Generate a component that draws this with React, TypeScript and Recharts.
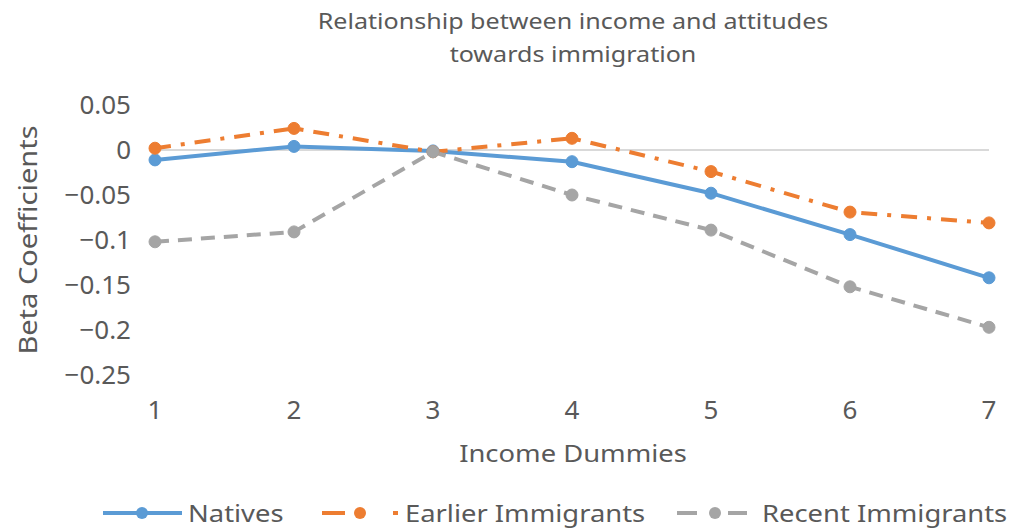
import { LineChart, Line, XAxis, YAxis, ReferenceLine } from 'recharts';

const categories = ['1', '2', '3', '4', '5', '6', '7'];
const natives = [-0.011, 0.004, -0.001, -0.013, -0.048, -0.094, -0.142];
const earlierImmigrants = [0.002, 0.024, -0.002, 0.013, -0.024, -0.069, -0.081];
const recentImmigrants = [-0.102, -0.091, -0.002, -0.05, -0.089, -0.152, -0.197];
const yTicks = [0.05, 0, -0.05, -0.1, -0.15, -0.2, -0.25];

const BLUE = '#5B9BD5';
const ORANGE = '#ED7D31';
const GREY = '#A5A5A5';
const TEXT = '#595959';
const FONT = '"Noto Sans", sans-serif';

const data = categories.map((c, i) => ({
  income: c,
  natives: natives[i],
  earlier: earlierImmigrants[i],
  recent: recentImmigrants[i],
}));

const formatTick = (v: number) => (v === 0 ? '0' : String(v).replace('-', '\u2212'));

// stretched text, the reference font runs wider than Noto Sans
const Wide = ({ left, top, size, children }: { left: number; top: number; size: number; children: string }) => (
  <div
    style={{
      position: 'absolute',
      left,
      top,
      fontSize: size,
      whiteSpace: 'nowrap',
      transform: 'scaleX(1.14)',
      transformOrigin: 'left center',
    }}
  >
    {children}
  </div>
);

const Centered = ({ cx, top, size, children }: { cx: number; top: number; size: number; children: string }) => (
  <div
    style={{
      position: 'absolute',
      left: cx,
      top,
      fontSize: size,
      whiteSpace: 'nowrap',
      transform: 'translateX(-50%) scaleX(1.14)',
    }}
  >
    {children}
  </div>
);

const App = () => {
  return (
    <div style={{ position: 'absolute', left: 0, top: 0, width: 1010, height: 528, background: '#fff', fontFamily: FONT, color: TEXT }}>
      <Centered cx={573} top={5} size={22}>Relationship between income and attitudes</Centered>
      <Centered cx={573} top={38} size={22}>towards immigration</Centered>
      <LineChart width={1010} height={528} data={data} margin={{ top: 105, right: 21, left: 0, bottom: 0 }}>
        <XAxis
          dataKey="income"
          axisLine={false}
          tickLine={false}
          tickSize={0}
          tickMargin={26}
          height={153}
          padding={{ left: 0, right: 0 }}
          tick={{ fill: TEXT, fontSize: 26, fontFamily: FONT }}
        />
        <YAxis
          domain={[-0.25, 0.05]}
          ticks={yTicks}
          axisLine={false}
          tickLine={false}
          tickSize={0}
          tickMargin={24}
          width={155}
          interval={0}
          tickFormatter={formatTick}
          tick={{ fill: TEXT, fontSize: 26, fontFamily: FONT }}
        />
        <ReferenceLine y={0} stroke="#D9D9D9" strokeWidth={2} />
        <Line
          dataKey="natives"
          stroke={BLUE}
          strokeWidth={4}
          dot={{ r: 6, fill: BLUE, stroke: BLUE, strokeWidth: 1 }}
          isAnimationActive={false}
        />
        <Line
          dataKey="earlier"
          stroke={ORANGE}
          strokeWidth={4}
          strokeDasharray="16 10 4 10"
          dot={{ r: 6, fill: ORANGE, stroke: ORANGE, strokeWidth: 1, strokeDasharray: '' }}
          isAnimationActive={false}
        />
        <Line
          dataKey="recent"
          stroke={GREY}
          strokeWidth={4}
          strokeDasharray="14 9"
          dot={{ r: 6, fill: GREY, stroke: GREY, strokeWidth: 1, strokeDasharray: '' }}
          isAnimationActive={false}
        />
      </LineChart>
      <Centered cx={573} top={436} size={24}>Income Dummies</Centered>
      <div
        style={{
          position: 'absolute',
          left: 27,
          top: 240,
          transform: 'translate(-50%, -50%) rotate(-90deg) scaleX(1.16)',
          whiteSpace: 'nowrap',
          fontSize: 25,
        }}
      >
        Beta Coefficients
      </div>
      <svg style={{ position: 'absolute', left: 0, top: 503 }} width={1010} height={20}>
        <line x1={103} y1={10} x2={182} y2={10} stroke={BLUE} strokeWidth={4} />
        <circle cx={142} cy={10} r={6} fill={BLUE} />
        <line x1={322} y1={10} x2={345} y2={10} stroke={ORANGE} strokeWidth={4} />
        <circle cx={360} cy={10} r={6} fill={ORANGE} />
        <line x1={393} y1={10} x2={398} y2={10} stroke={ORANGE} strokeWidth={4} />
        <line x1={677} y1={10} x2={697} y2={10} stroke={GREY} strokeWidth={4} />
        <circle cx={715} cy={10} r={6} fill={GREY} />
        <line x1={728} y1={10} x2={747} y2={10} stroke={GREY} strokeWidth={4} />
      </svg>
      <Wide left={188} top={496} size={24}>Natives</Wide>
      <Wide left={405} top={496} size={24}>Earlier Immigrants</Wide>
      <Wide left={762} top={496} size={24}>Recent Immigrants</Wide>
    </div>
  );
};

export default App;
